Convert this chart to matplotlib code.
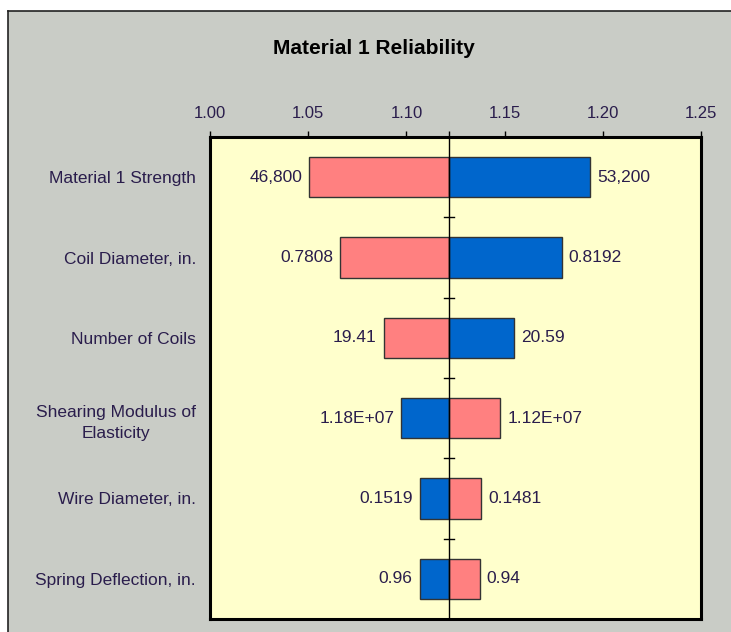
import matplotlib.pyplot as plt
from matplotlib.patches import Rectangle
from matplotlib.lines import Line2D
from matplotlib.ticker import FixedLocator

plt.rcParams['font.family'] = ['Liberation Sans', 'DejaVu Sans']

# data
title = "Material 1 Reliability"
base_value = 1.1218
factors = ["Material 1 Strength", "Coil Diameter, in.", "Number of Coils",
           "Shearing Modulus of\nElasticity", "Wire Diameter, in.",
           "Spring Deflection, in."]
left_ends = [1.0504, 1.0663, 1.0885, 1.0975, 1.1067, 1.1067]
right_ends = [1.1935, 1.1790, 1.1550, 1.1478, 1.1382, 1.1373]
left_labels = ["46,800", "0.7808", "19.41", "1.18E+07", "0.1519", "0.96"]
right_labels = ["53,200", "0.8192", "20.59", "1.12E+07", "0.1481", "0.94"]
left_is_low = [True, True, True, False, False, False]
x_ticks = [1.00, 1.05, 1.10, 1.15, 1.20, 1.25]

RED = '#ff8080'
BLUE = '#0066cc'
TXT = '#2a1d4c'
GRAY = '#c9ccc6'

W, H = 731, 632
fig = plt.figure(figsize=(W / 100, H / 100), dpi=100)
fig.patch.set_facecolor('white')

# gray chart panel with dark left/top border (behind the axes)
fig.patches.append(Rectangle((8 / W, 0), 1 - 8 / W, 1 - 11 / H,
                             transform=fig.transFigure, facecolor=GRAY,
                             edgecolor='none', zorder=-10))
fig.lines.append(Line2D([8 / W, 8 / W], [0, 1 - 11 / H], transform=fig.transFigure,
                        color='#222222', lw=1.2, zorder=-9))
fig.lines.append(Line2D([8 / W, 1], [1 - 11 / H, 1 - 11 / H], transform=fig.transFigure,
                        color='#222222', lw=1.2, zorder=-9))

ax = fig.add_axes([210 / W, 1 - 619 / H, 491 / W, 482 / H])
ax.set_zorder(1)
ax.set_facecolor('#ffffcc')

n = len(factors)
ys = list(range(n))
for i in range(n):
    lc = RED if left_is_low[i] else BLUE
    rc = BLUE if left_is_low[i] else RED
    ax.barh(ys[i], base_value - left_ends[i], left=left_ends[i], height=0.5,
            color=lc, edgecolor='#333333', linewidth=1, zorder=2)
    ax.barh(ys[i], right_ends[i] - base_value, left=base_value, height=0.5,
            color=rc, edgecolor='#333333', linewidth=1, zorder=2)
    ax.annotate(left_labels[i], (left_ends[i], ys[i]), xytext=(-5, 0),
                textcoords='offset points', ha='right', va='center',
                fontsize=12.5, color=TXT)
    ax.annotate(right_labels[i], (right_ends[i], ys[i]), xytext=(5, 0),
                textcoords='offset points', ha='left', va='center',
                fontsize=12.5, color=TXT)

# center line with small category ticks between rows
ax.axvline(base_value, color='black', lw=1, zorder=3)
for k in range(n - 1):
    ax.plot([base_value - 0.0025, base_value + 0.0025], [k + 0.5, k + 0.5],
            color='black', lw=1, zorder=3)

ax.set_xlim(1.0, 1.25)
ax.set_ylim(n - 0.5, -0.5)
ax.xaxis.tick_top()
ax.set_xticks(x_ticks)
ax.set_xticklabels([f"{v:.2f}" for v in x_ticks])
ax.xaxis.set_minor_locator(FixedLocator([base_value]))
ax.tick_params(axis='x', which='both', direction='out', length=4, width=1,
               color='black', labelsize=12, labelcolor=TXT, pad=7.5)
ax.set_yticks(ys)
ax.set_yticklabels(factors)
ax.tick_params(axis='y', length=0, labelsize=12.5, labelcolor=TXT, pad=10)
for lbl in ax.get_yticklabels():
    lbl.set_multialignment('center')
    lbl.set_linespacing(1.55)

for s in ax.spines.values():
    s.set_linewidth(2.2)
    s.set_color('black')

fig.text(374 / W, 1 - 49 / H, title, ha='center', va='center',
         fontsize=15, fontweight='bold', color='black')

fig.savefig('out.png', dpi=100, facecolor=fig.get_facecolor())
